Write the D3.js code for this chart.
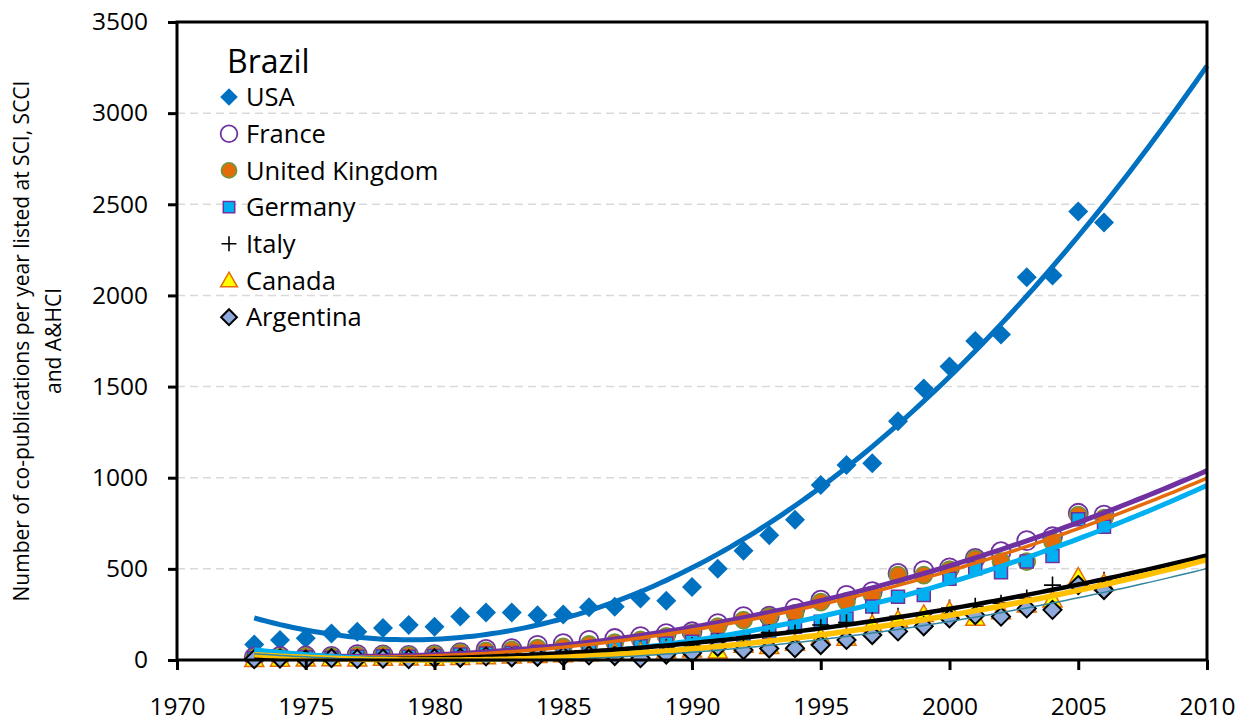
<!DOCTYPE html>
<html>
<head>
<meta charset="utf-8">
<script src="https://cdn.jsdelivr.net/npm/d3@7"></script>
<style>
  body { margin: 0; background: #fff; }
  text { font-family: "Open Sans", sans-serif; }
</style>
</head>
<body>
<div id="chart"></div>
<script>
var years = d3.range(1973, 2007);

var usa =       [85, 110, 120, 145, 155, 175, 192, 183, 238, 260, 260, 245, 250, 290, 292, 338, 325, 400, 500, 600, 685, 770, 960, 1070, 1080, 1310, 1490, 1610, 1750, 1785, 2100, 2110, 2460, 2400];
var france =    [15, 20, 22, 20, 30, 28, 25, 30, 40, 58, 62, 80, 90, 108, 118, 128, 145, 155, 200, 238, 240, 283, 328, 355, 375, 475, 490, 505, 558, 594, 655, 676, 805, 795];
var uk =        [12, 15, 20, 18, 25, 28, 25, 30, 40, 50, 55, 65, 72, 85, 95, 110, 130, 147, 183, 219, 238, 256, 318, 320, 356, 466, 466, 495, 555, 540, 540, 650, 795, 778];
var germany =   [10, 12, 15, 12, 18, 20, 18, 22, 30, 35, 38, 45, 50, 60, 65, 75, 90, 100, 110, 119, 155, 183, 210, 228, 293, 347, 356, 446, 503, 481, 540, 570, 772, 731];
var italy =     [5, 8, 5, 10, 8, 12, 10, 15, 18, 20, 25, 30, 35, 40, 50, 60, 70, 80, 100, 120, 150, 162, 192, 205, 215, 240, 252, 285, 295, 312, 340, 411, 420, 438];
var canada =    [3, 5, 6, 8, 6, 10, 12, 10, 15, 18, 22, 25, 30, 35, 40, 45, 50, 55, 50, 82, 75, 92, 125, 120, 195, 220, 250, 270, 230, 265, 302, 330, 455, 421];
var argentina = [5, 8, 3, 10, 6, 8, 5, 10, 12, 20, 15, 18, 20, 25, 22, 10, 30, 38, 72, 55, 63, 65, 82, 110, 137, 157, 185, 228, 246, 238, 283, 275, 411, 384];

var seriesNames = ["USA", "France", "United Kingdom", "Germany", "Italy", "Canada", "Argentina"];
var seriesValues = [usa, france, uk, germany, italy, canada, argentina];

var xTicks = [1970, 1975, 1980, 1985, 1990, 1995, 2000, 2005, 2010];
var yTicks = [0, 500, 1000, 1500, 2000, 2500, 3000, 3500];

// marker + trend styles per series
var styles = [
  {shape: "diamond", r: 10, fill: "#0070C0", stroke: "none", sw: 0, line: "#0070C0", lw: 5},
  {shape: "circle", r: 9.5, fill: "none", stroke: "#7030A0", sw: 1.8, line: "#7030A0", lw: 5},
  {shape: "circle", r: 8.5, fill: "#E36C09", stroke: "#77933C", sw: 1.8, line: "#E46C0A", lw: 3.5},
  {shape: "square", r: 6.5, fill: "#00B0F0", stroke: "#7030A0", sw: 1.5, line: "#00B0F0", lw: 5},
  {shape: "plus", r: 8.5, fill: "none", stroke: "#000", sw: 1.6, line: "#000", lw: 4.5},
  {shape: "triangle", r: 9.5, fill: "#FFFF00", stroke: "#E46C0A", sw: 1.5, line: "#FFC000", lw: 5.5},
  {shape: "diamond", r: 9, fill: "#8EA9DB", stroke: "#000", sw: 2, line: "#31859C", lw: 1.5}
];

function markerPath(shape, r) {
  if (shape == "diamond") return "M0," + (-r) + "L" + r + ",0L0," + r + "L" + (-r) + ",0Z";
  if (shape == "square") return "M" + (-r) + "," + (-r) + "h" + 2 * r + "v" + 2 * r + "h" + (-2 * r) + "Z";
  if (shape == "plus") return "M" + (-r) + ",0H" + r + "M0," + (-r) + "V" + r;
  if (shape == "triangle") return "M0," + (-r) + "L" + r + "," + r * 0.75 + "L" + (-r) + "," + r * 0.75 + "Z";
  return null;
}

// quadratic least squares, x centred on 1990
function quadFit(xs, ys) {
  var s = [0, 0, 0, 0, 0], t = [0, 0, 0];
  for (var i = 0; i < xs.length; i++) {
    var x = xs[i] - 1990, p = 1;
    for (var k = 0; k < 5; k++) { s[k] += p; if (k < 3) t[k] += p * ys[i]; p *= x; }
  }
  var m = [[s[0], s[1], s[2], t[0]], [s[1], s[2], s[3], t[1]], [s[2], s[3], s[4], t[2]]];
  for (var c = 0; c < 3; c++) {
    for (var r = c + 1; r < 3; r++) {
      var f = m[r][c] / m[c][c];
      for (var j = c; j < 4; j++) m[r][j] -= f * m[c][j];
    }
  }
  var b = [0, 0, 0];
  for (var r = 2; r >= 0; r--) {
    var v = m[r][3];
    for (var j = r + 1; j < 3; j++) v -= m[r][j] * b[j];
    b[r] = v / m[r][r];
  }
  return function(year) { var x = year - 1990; return b[0] + b[1] * x + b[2] * x * x; };
}

var width = 1247, height = 723;
var margin = {left: 177, right: 40, top: 22, bottom: 63};

var svg = d3.select("#chart").append("svg")
  .attr("width", width)
  .attr("height", height);

var x = d3.scaleLinear().domain([1970, 2010]).range([margin.left, width - margin.right]);
var y = d3.scaleLinear().domain([0, 3500]).range([height - margin.bottom, margin.top]);

// gridlines
svg.append("g")
  .selectAll("line")
  .data(yTicks.filter(function(d) { return d > 0 && d < 3500; }))
  .enter().append("line")
  .attr("x1", x(1970)).attr("x2", x(2010))
  .attr("y1", function(d) { return y(d); })
  .attr("y2", function(d) { return y(d); })
  .style("stroke", "#d9d9d9")
  .style("stroke-width", 1.5)
  .style("stroke-dasharray", "8,5");

// markers
seriesValues.forEach(function(vals, si) {
  var st = styles[si];
  var g = svg.append("g");
  var pts = g.selectAll("path").data(vals).enter();
  if (st.shape == "circle") {
    pts.append("circle")
      .attr("cx", function(d, i) { return x(years[i]); })
      .attr("cy", function(d) { return y(d); })
      .attr("r", st.r)
      .style("fill", st.fill).style("stroke", st.stroke).style("stroke-width", st.sw);
  } else {
    pts.append("path")
      .attr("d", markerPath(st.shape, st.r))
      .attr("transform", function(d, i) { return "translate(" + x(years[i]) + "," + y(d) + ")"; })
      .style("fill", st.fill).style("stroke", st.stroke).style("stroke-width", st.sw);
  }
});

// trend lines (2nd order polynomial, like the spreadsheet)
var line = d3.line()
  .x(function(d) { return x(d[0]); })
  .y(function(d) { return y(d[1]); });

seriesValues.forEach(function(vals, si) {
  var fit = quadFit(years, vals);
  var pts = d3.range(1973, 2010.001, 0.25).map(function(t) { return [t, fit(t)]; });
  svg.append("path")
    .attr("d", line(pts))
    .style("fill", "none")
    .style("stroke", styles[si].line)
    .style("stroke-width", styles[si].lw);
});

// frame
svg.append("rect")
  .attr("x", x(1970)).attr("y", y(3500))
  .attr("width", x(2010) - x(1970)).attr("height", y(0) - y(3500))
  .style("fill", "none").style("stroke", "#000").style("stroke-width", 3);

// axes
var yAxis = svg.append("g")
  .attr("transform", "translate(" + x(1970) + ",0)")
  .call(d3.axisLeft(y).tickValues(yTicks).tickFormat(d3.format("d")).tickSize(9).tickPadding(20));
var xAxis = svg.append("g")
  .attr("transform", "translate(0," + y(0) + ")")
  .call(d3.axisBottom(x).tickValues(xTicks).tickFormat(d3.format("d")).tickSize(10).tickPadding(28));

[yAxis, xAxis].forEach(function(a) {
  a.select(".domain").remove();
  a.selectAll(".tick line").style("stroke", "#000").style("stroke-width", 3);
  a.selectAll(".tick text")
    .style("font-family", "'Open Sans', sans-serif")
    .style("font-size", "24.5px")
    .style("fill", "#000");
});

// axis title
var ty = (y(0) + y(3500)) / 2;
var title = svg.append("text")
  .attr("transform", "translate(29," + ty + ") rotate(-90)")
  .style("text-anchor", "middle")
  .style("font-size", "21px")
  .style("fill", "#000");
title.append("tspan").attr("x", 0).attr("dy", 0).text("Number of co-publications per year listed at SCI, SCCI");
title.append("tspan").attr("x", 0).attr("dy", 32).text("and A&HCI");

// legend
var legend = svg.append("g");
legend.append("text")
  .attr("x", 227).attr("y", 62)
  .attr("dy", "0.35em")
  .style("font-size", "32px")
  .text("Brazil");

seriesNames.forEach(function(name, i) {
  var st = styles[i];
  var ly = 97 + i * 36.7;
  var lr = st.r * 0.88;
  if (st.shape == "circle") {
    legend.append("circle").attr("cx", 229).attr("cy", ly).attr("r", lr)
      .style("fill", st.fill == "none" ? "#fff" : st.fill).style("stroke", st.stroke).style("stroke-width", st.sw);
  } else {
    legend.append("path").attr("d", markerPath(st.shape, lr))
      .attr("transform", "translate(229," + ly + ")")
      .style("fill", st.fill).style("stroke", st.stroke).style("stroke-width", st.sw);
  }
  legend.append("text")
    .attr("x", 246).attr("y", ly)
    .attr("dy", "0.36em")
    .style("font-size", "25.5px")
    .text(name);
});
</script>
</body>
</html>
